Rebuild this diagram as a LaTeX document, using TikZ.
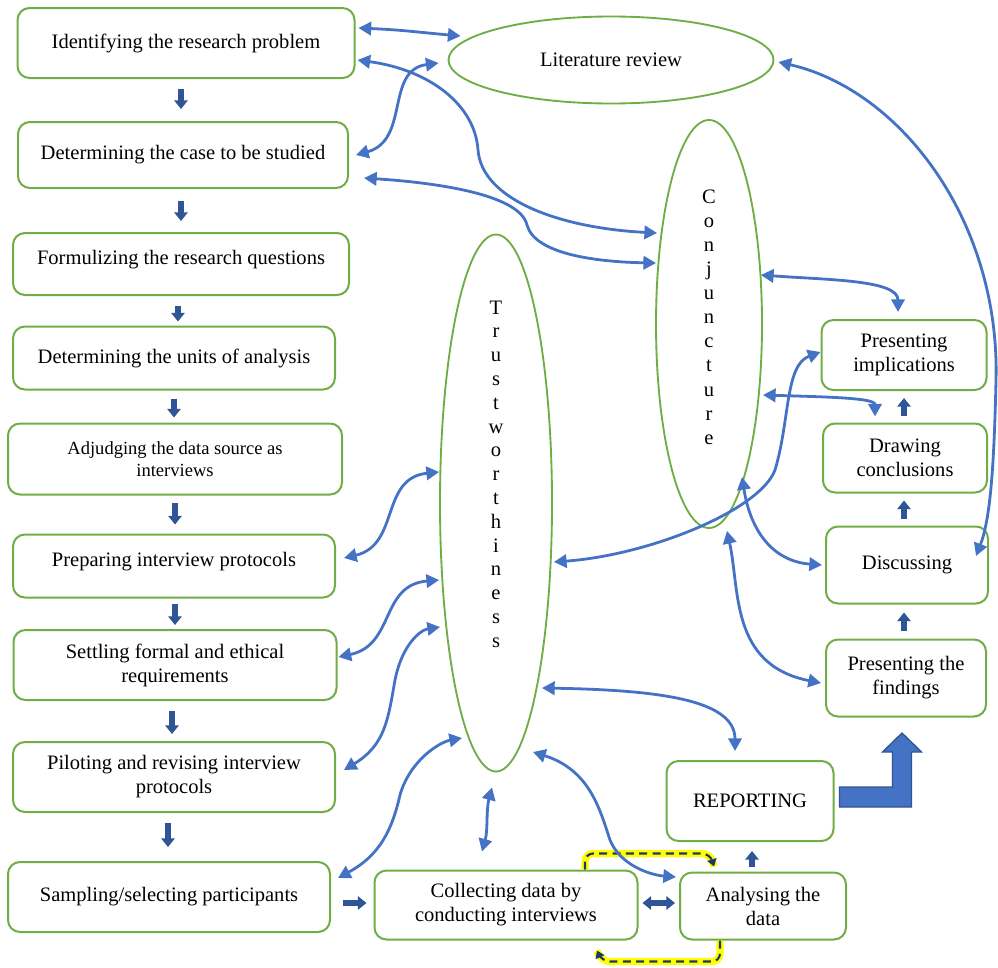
\documentclass[tikz,border=0pt]{standalone}
\usepackage{fontspec}
\setmainfont{Liberation Serif}
\usetikzlibrary{shapes.geometric,arrows.meta,calc}
\definecolor{grn}{HTML}{70AD47}
\definecolor{cblue}{HTML}{4472C4}
\definecolor{dblue}{HTML}{2F5597}
\definecolor{yel}{HTML}{FFFF00}
\definecolor{navy}{HTML}{1F3864}
\newcommand{\fs}{\fontsize{15.4pt}{18pt}\selectfont}
\newcommand{\fss}{\fontsize{13.9pt}{16.5pt}\selectfont}
\begin{document}
\begin{tikzpicture}[x=0.75pt,y=-0.75pt,
  box/.style={draw=grn, line width=1.5pt, rounded corners=9pt, align=center, inner sep=2pt, font=\fs, fill=white},
  ell/.style={ellipse, draw=grn, line width=1.4pt, inner sep=0pt},
  lbl/.style={font=\fs, align=center, inner sep=0pt},
  conn/.style={draw=cblue, line width=2.1pt, {Triangle[width=10pt,length=9.5pt]}-{Triangle[width=10pt,length=9.5pt]}},
  blk/.style={draw=dblue, line width=4.2pt, -{Triangle[width=10pt,length=6.5pt]}},
  blkd/.style={draw=dblue, line width=4.2pt, {Triangle[width=10pt,length=6.5pt]}-{Triangle[width=10pt,length=6.5pt]}},
  bigarr/.style={fill=cblue, draw=dblue, line width=1pt, line join=miter},
  hl/.style={draw=yel, line width=5.5pt, rounded corners=6},
  hld/.style={draw=navy, line width=1.6pt, dash pattern=on 6pt off 4pt, rounded corners=6, -{Triangle[width=7pt,length=5.5pt]}}
]
\useasboundingbox (0,0) rectangle (998,967);

% left column
\node[box, minimum width=252.75pt, minimum height=52.5pt] (id) at (186,43) {Identifying the research problem};
\node[box, minimum width=247.5pt, minimum height=49.5pt] (case) at (183,155) {Determining the case to be studied};
\node[box, minimum width=252pt, minimum height=46.5pt] (form) at (181,264) {\raisebox{0pt}[0pt][0pt]{Formulizing the research questions}};
\node[box, minimum width=241.5pt, minimum height=47.25pt] (units) at (174,358) {Determining the units of analysis};
\node[box, minimum width=250.5pt, minimum height=53.25pt, font=\fss] (adj) at (175,459) {Adjudging the data source as\\interviews};
\node[box, minimum width=241.5pt, minimum height=47.25pt] (prep) at (174,566) {\raisebox{0pt}[0pt][0pt]{Preparing interview protocols}};
\node[box, minimum width=242.25pt, minimum height=52.5pt] (settle) at (175,665) {Settling formal and ethical\\requirements};
\node[box, minimum width=241.5pt, minimum height=52.5pt] (pilot) at (174,777) {Piloting and revising interview\\protocols};
\node[box, minimum width=241.5pt, minimum height=52.5pt] (sample) at (169,897) {Sampling/selecting participants};

% bottom row
\node[box, minimum width=197.25pt, minimum height=51.75pt] (collect) at (506,905) {Collecting data by\\conducting interviews};
\node[box, minimum width=124.5pt, minimum height=50.25pt] (analyse) at (763,906) {Analysing the\\data};
\node[box, minimum width=125.25pt, minimum height=60pt] (report) at (750,801) {REPORTING};

% right column
\node[box, minimum width=120pt, minimum height=57.75pt] (findings) at (906,678) {Presenting the\\findings};
\node[box, minimum width=121.5pt, minimum height=57.75pt] (discuss) at (907,565) {Discussing};
\node[box, minimum width=123pt, minimum height=51.75pt] (conclude) at (905,458) {Drawing\\conclusions};
\node[box, minimum width=123.75pt, minimum height=52.5pt] (implic) at (904,355) {Presenting\\implications};

% ellipses
\node[ell, minimum width=243.75pt, minimum height=65.25pt, font=\fs] (lit) at (611,60) {Literature review};
\node[ell, minimum width=79.5pt, minimum height=306pt] (conj) at (709,324) {};
\node[lbl, font=\fontsize{15.4pt}{18.1pt}\selectfont] (conjlbl) at (709,317) {C\\o\\n\\j\\u\\n\\c\\t\\u\\r\\e};
\node[ell, minimum width=84pt, minimum height=402.75pt] (trust) at (496,503) {};
\node[lbl, font=\fontsize{15.4pt}{17.85pt}\selectfont] (trustlbl) at (496,474) {T\\r\\u\\s\\t\\w\\o\\r\\t\\h\\i\\n\\e\\s\\s};

% small block arrows
\draw[blk] ($(id.south)+(-5,10)$) -- ($(case.north)+(-2,-12)$);
\draw[blk] ($(case.south)+(-2,12)$) -- ($(form.north)+(0,-11)$);
\draw[blk] ($(form.south)+(-3,10)$) -- ($(units.north)+(4,-4)$);
\draw[blk] ($(units.south)+(0,8)$) -- ($(adj.north)+(-1,-5)$);
\draw[blk] ($(adj.south)+(0,7)$) -- ($(prep.north)+(1,-9)$);
\draw[blk] ($(prep.south)+(1,5)$) -- ($(settle.north)+(0,-4)$);
\draw[blk] ($(settle.south)+(-3,10)$) -- ($(pilot.north)+(-2,-7)$);
\draw[blk] ($(pilot.south)+(-6,10)$) -- ($(sample.north)+(-1,-14)$);
\draw[blk] ($(sample.east)+(12,6)$) -- ($(collect.west)+(-7,-2)$);
\draw[blkd] ($(collect.east)+(4,-2)$) -- ($(analyse.west)+(-4,-3)$);
\draw[blk] ($(analyse.north)+(-11,-5)$) -- ($(report.south)+(2,9)$);
\draw[blk] ($(findings.north)+(-2,-8)$) -- ($(discuss.south)+(-3,8)$);
\draw[blk] ($(discuss.north)+(-3,-7)$) -- ($(conclude.south)+(-1,7)$);
\draw[blk] ($(conclude.north)+(-1,-7)$) -- ($(implic.south)+(0,7)$);

% big L arrow
\draw[bigarr] ($(report.east)+(5,-14)$) -- ++(53,0) -- ++(0,-35) -- ++(-10,0) -- ++(19.5,-19) -- ++(19.5,19) -- ++(-10,0) -- ++(0,55) -- ++(-72,0) -- cycle;

% yellow dashed loops
\draw[hl] ($(collect.north)+(79,0)$) -- ++(0,-16) -- ++(125,0) -- ($(analyse.north)+(-49,-5)$);
\draw[hld] ($(collect.north)+(79,0)$) -- ++(0,-16) -- ++(125,0) -- ($(analyse.north)+(-49,-5)$);
\draw[hl] ($(analyse.south)+(-43,0)$) -- ++(0,21) -- ++(-118,0) -- ($(collect.south)+(91,10)$);
\draw[hld] ($(analyse.south)+(-43,0)$) -- ++(0,21) -- ++(-118,0) -- ($(collect.south)+(91,10)$);

% thin connectors
\draw[conn] ($(id.east)+(3,-15)$) .. controls +(45,2) and +(-45,-4) .. ($(lit.west)+(13,-24)$);
\draw[conn] ($(id.east)+(2,17)$) .. controls (430,70) and (475,105) .. (478,150) .. controls (482,200) and (560,228) .. ($(conj.west)+(2,-91)$);
\draw[conn] ($(case.east)+(7,0)$) .. controls (410,140) and (385,70) .. ($(lit.west)+(-9,3)$);
\draw[conn] ($(case.east)+(15,23)$) .. controls (440,183) and (520,195) .. (527,225) .. controls (535,255) and (600,262) .. ($(conj.west)+(1,-61)$);
\draw[conn] ($(lit.east)+(4,2)$) .. controls (900,90) and (1000,220) .. (996,380) .. controls (994,470) and (990,520) .. ($(discuss.east)+(-13,-9)$);
\draw[conn] ($(conj.east)+(-2,-49)$) .. controls (830,280) and (898,280) .. ($(implic.north)+(-6,-7)$);
\draw[conn] ($(conj.east)+(0,71)$) .. controls (830,397) and (875,398) .. ($(conclude.north)+(-30,-6)$);
\draw[conn] ($(trust.east)+(1,59)$) .. controls (650,555) and (760,510) .. (775,470) .. controls (790,420) and (785,365) .. ($(implic.west)+(0,-3)$);
\draw[conn] ($(conj.center)+(33,153)$) .. controls (752,540) and (780,562) .. ($(discuss.west)+(-3,0)$);
\draw[conn] ($(conj.south)+(18,2)$) .. controls (740,590) and (730,665) .. ($(findings.west)+(-4,5)$);
\draw[conn] ($(trust.center)+(46,185)$) .. controls (660,690) and (735,700) .. ($(report.north)+(-15,-9)$);
\draw[conn] ($(trust.center)+(37,249)$) .. controls (590,770) and (600,810) .. (610,840) .. controls (620,865) and (650,875) .. ($(analyse.west)+(-3,-29)$);
\draw[conn] ($(trust.south)+(-4,15)$) .. controls (486,810) and (488,830) .. ($(collect.north)+(-24,-18)$);
\draw[conn] ($(sample.east)+(7,-19)$) .. controls (380,855) and (392,830) .. (400,795) .. controls (410,760) and (440,742) .. ($(trust.center)+(-34,235)$);
\draw[conn] ($(pilot.east)+(8,-7)$) .. controls (385,745) and (388,720) .. (395,680) .. controls (402,645) and (420,630) .. ($(trust.center)+(-56,124)$);
\draw[conn] ($(settle.east)+(1,-8)$) .. controls (395,645) and (380,585) .. ($(trust.west)+(0,77)$);
\draw[conn] ($(prep.east)+(8,-8)$) .. controls (400,545) and (380,478) .. ($(trust.west)+(0,-31)$);
\end{tikzpicture}
\end{document}
